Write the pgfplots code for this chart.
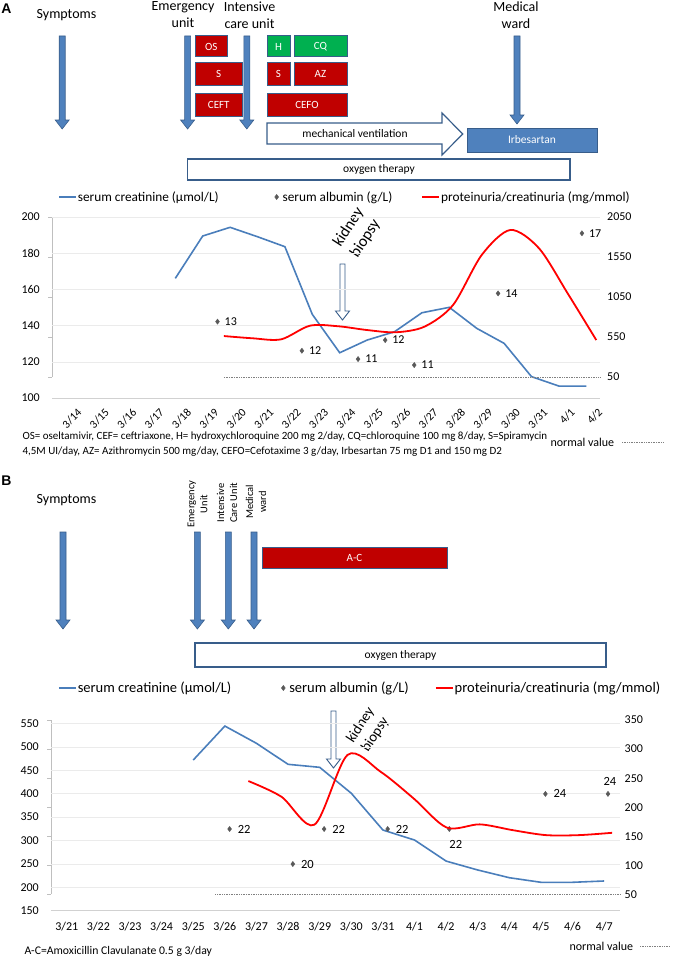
\documentclass[border=0pt]{standalone}
\usepackage{fontspec}
\setmainfont{Carlito}
\newfontfamily\arialf{Liberation Sans}
\usepackage{pgfplots}
\pgfplotsset{compat=1.18}
\definecolor{afill}{HTML}{4F81BD}
\definecolor{adraw}{HTML}{385D8A}
\definecolor{bred}{HTML}{C00000}
\definecolor{bgreen}{HTML}{00B050}
\definecolor{lblue}{HTML}{4A7EBB}
\definecolor{alb}{HTML}{595959}
\definecolor{axg}{HTML}{BFBFBF}
\newcommand{\fs}[2]{\fontsize{#1}{#2}\selectfont}
\newcommand{\darrow}[3]{%
  \filldraw[fill=afill,draw=adraw,line width=0.6pt]
  ({#1-3},#2) -- ({#1+3},#2) -- ({#1+3},{#3-9}) -- ({#1+7},{#3-9}) -- (#1,#3) -- ({#1-7},{#3-9}) -- ({#1-3},{#3-9}) -- cycle;}
\newcommand{\harrow}[3]{%
  \filldraw[fill=white,draw=adraw,line width=0.9pt]
  ({#1-2.5},#2) -- ({#1+2.5},#2) -- ({#1+2.5},{#3-9}) -- ({#1+7},{#3-9}) -- (#1,#3) -- ({#1-7},{#3-9}) -- ({#1-2.5},{#3-9}) -- cycle;}
\newcommand{\tbox}[6]{%
  \filldraw[fill=#5,draw=adraw,line width=1pt] (#1,#2) rectangle (#3,#4);
  \node[text=white,font=\fs{11}{13}] at ({(#1+#3)/2},{(#2+#4)/2}) {#6};}
\pgfplotsset{
  albstyle/.style={only marks, mark=diamond*, mark size=2.6pt, color=alb,
    nodes near coords, point meta=explicit symbolic},
  albleg/.style={legend image code/.code={\draw[alb,fill=alb] plot[mark=diamond*, mark size=2.6pt] coordinates {(3pt,0pt)};}},
}
\begin{document}
\begin{tikzpicture}
\useasboundingbox (0,0) rectangle (675pt,-958pt);
\begin{scope}[x=1pt,y=-1pt]
% ---------------- Panel A header
\node[font=\arialf\bfseries\fs{14}{16}] at (6.5,8.5) {A};
\node[font=\fs{14}{16}] at (66.5,15) {Symptoms};
\node[font=\fs{14}{17},align=center] at (183,15) {Emergency\\unit};
\node[font=\fs{14}{17},align=center] at (249.5,15) {Intensive\\care unit};
\node[font=\fs{14}{17},align=center] at (516,15) {Medical\\ward};
\darrow{62.2}{36}{129}
\darrow{187.6}{36}{129}
\darrow{246.8}{36}{129}
\darrow{517}{36}{124}
\tbox{195}{36}{227.5}{57}{bred}{OS}
\tbox{195}{63}{242.5}{85}{bred}{S}
\tbox{195}{93}{242.5}{116}{bred}{CEFT}
\tbox{267}{36}{290}{57}{bgreen}{H}
\tbox{294}{36}{347}{57}{bgreen}{CQ}
\tbox{267}{63}{290}{85}{bred}{S}
\tbox{294}{63}{347}{85}{bred}{AZ}
\tbox{267}{93}{347}{116}{bred}{CEFO}
\filldraw[fill=white,draw=adraw,line width=1.2pt] (267,123) -- (442,123) -- (442,113) -- (462.7,134) -- (442,155) -- (442,144) -- (267,144) -- cycle;
\node[font=\fs{11.5}{13}] at (355,133.5) {mechanical ventilation};
\filldraw[fill=afill,draw=adraw,line width=1pt] (467,128) rectangle (597,152);
\node[font=\fs{11.5}{13},text=white] at (532,140) {Irbesartan};
\filldraw[fill=white,draw=adraw,line width=1.2pt] (187.6,159) rectangle (570,180);
\node[font=\fs{11.5}{13}] at (379,169.5) {oxygen therapy};
% axis decoration A
\draw[axg,line width=0.8pt] (52,217) -- (52,377);
\foreach \yy in {217,257,297,337,377} \draw[axg,line width=0.8pt] (48,\yy) -- (52,\yy);
\harrow{342.5}{264}{320}
\node[rotate=57,align=center,font=\fs{16}{20}] at (357,233) {kidney\\biopsy};
% footnote A
\node[anchor=west,font=\fs{11}{13}] at (19,437) {OS= oseltamivir, CEF= ceftriaxone, H= hydroxychloroquine 200 mg 2/day, CQ=chloroquine 100 mg 8/day, S=Spiramycin};
\node[anchor=west,font=\fs{11}{13}] at (19,452) {4,5M UI/day, AZ= Azithromycin 500 mg/day, CEFO=Cefotaxime 3 g/day, Irbesartan 75 mg D1 and 150 mg D2};
\node[anchor=west,font=\fs{12}{13}] at (547,442) {normal value};
\draw[gray,densely dotted,line width=0.7pt] (622,442) -- (663,442);
% ---------------- Panel B header
\node[font=\arialf\bfseries\fs{14}{16}] at (6.5,481) {B};
\node[font=\fs{14}{16}] at (66.5,500) {Symptoms};
\node[rotate=90,align=center,font=\fs{10.5}{13}] at (197.5,504) {Emergency\\Unit};
\node[rotate=90,align=center,font=\fs{10.5}{13}] at (227,503) {Intensive\\Care Unit};
\node[rotate=90,align=center,font=\fs{10.5}{13}] at (256,502) {Medical\\ward};
\darrow{63}{532}{629}
\darrow{197.4}{532}{629}
\darrow{228.3}{532}{629}
\darrow{254}{532}{629}
\tbox{262}{547}{447}{568}{bred}{A-C}
\filldraw[fill=white,draw=adraw,line width=1.2pt] (195,643) rectangle (606,667);
\node[font=\fs{11.5}{13}] at (400.5,655) {oxygen therapy};
% axis decoration B
\draw[axg,line width=0.8pt] (51,720) -- (51,894.3);
\foreach \yy in {720,749.1,778.2,807.3,836.2,865.3,894.3} \draw[axg,line width=0.8pt] (47,\yy) -- (51,\yy);
\harrow{333.5}{711}{768}
\node[rotate=57,align=center,font=\fs{14.5}{17.5}] at (368,730) {kidney\\biopsy};
% footnote B
\node[anchor=west,font=\fs{11.7}{13}] at (21,951) {A-C=Amoxicillin Clavulanate 0.5 g 3/day};
\node[anchor=west,font=\fs{12}{13}] at (566,946) {normal value};
\draw[gray,densely dotted,line width=0.7pt] (640,946) -- (670,946);
\end{scope}

% ================= Panel A chart (left axis)
\begin{axis}[
  at={(52pt,-398pt)}, anchor=south west, scale only axis,
  width=548pt, height=181pt,
  xmin=-0.5, xmax=19.5, ymin=100, ymax=200,
  axis x line*=bottom, axis y line*=left,
  x axis line style={draw=black!18, line width=0.9pt},
  y axis line style={draw=none},
  tick style={draw=none},
  xtick={0,...,19},
  xticklabels={3/14,3/15,3/16,3/17,3/18,3/19,3/20,3/21,3/22,3/23,3/24,3/25,3/26,3/27,3/28,3/29,3/30,3/31,4/1,4/2},
  xticklabel style={rotate=45, anchor=east, inner sep=0pt, font=\fs{11.5}{13}, xshift=1pt, yshift=-19pt},
  ytick={100,120,...,200},
  yticklabel style={anchor=east, inner sep=0pt, font=\fs{12}{14}, xshift=-12pt},
  ymajorgrids, grid style={black!8, line width=0.6pt},
  /pgf/number format/assume math mode=true,
  /pgf/number format/1000 sep={},
  clip=false,
  legend columns=3,
  legend style={at={(0.011,1.1105)}, anchor=west, draw=none, fill=none, inner sep=0pt,
    font=\fs{13.3}{15}, nodes={inner sep=1pt},
    /tikz/every even column/.append style={column sep=0pt}},
  legend cell align=left,
]
\addplot[lblue, line width=1.6pt,
  legend image code/.code={\draw[lblue,line width=1.6pt] (0pt,0pt) -- (17pt,0pt);}]
  coordinates {(4,166.1) (5,189.5) (6,194.3) (7,189.1) (8,183.6) (9,146.2) (10,125.0) (11,132.0) (12,136.6) (13,147.1) (14,150.1) (15,138.5) (16,130.2) (17,111.8) (18,106.6) (19,106.6)};
\addlegendentry{serum creatinine (µmol/L)\rule{55pt}{0pt}}
\addplot[albstyle, albleg,
  nodes near coords style={anchor=west, inner sep=0pt, xshift=7pt, font=\fs{12}{14}, text=black}]
  table[row sep=\\, meta=lab] {x y lab\\ 5.54 142.2 13\\ 8.62 126.1 12\\ 10.67 121.5 11\\ 11.66 132.0 12\\ 12.72 118.2 11\\ 15.78 157.8 14\\ 18.84 191.0 17\\};
\addlegendentry{\rule{3pt}{0pt}serum albumin (g/L)\rule{28pt}{0pt}}
\addlegendimage{legend image code/.code={\draw[red,line width=1.8pt] (0pt,0pt) -- (17pt,0pt);}}
\addlegendentry{proteinuria/creatinuria (mg/mmol)}
\end{axis}

% ================= Panel A chart (right axis)
\begin{axis}[
  at={(52pt,-398pt)}, anchor=south west, scale only axis,
  width=548pt, height=181pt,
  xmin=0, xmax=19.13, ymin=-212.5, ymax=2050,
  axis x line=none, xtick=\empty,
  axis y line*=right, y axis line style={draw=none},
  tick style={draw=none},
  ytick={50,550,...,2050},
  yticklabel style={anchor=west, inner sep=0pt, font=\fs{12}{14}, xshift=7pt},
  /pgf/number format/assume math mode=true,
  /pgf/number format/1000 sep={},
  clip=false,
]
\addplot[gray, densely dotted, line width=0.7pt] coordinates {(6,50) (19.13,50)};
\addplot[red, line width=1.8pt, smooth, tension=0.5] coordinates {(6,562) (7,534) (8,521) (9,691) (10,684) (11,637) (12,609) (13,679) (14,950) (15,1575) (16,1888) (17,1659) (18,1096) (19,512)};
\end{axis}

% ================= Panel B chart (left axis)
\begin{axis}[
  at={(51pt,-910.7pt)}, anchor=south west, scale only axis,
  width=569pt, height=190.7pt,
  xmin=-0.5, xmax=17.5, ymin=150, ymax=557.5,
  axis x line*=bottom, axis y line*=left,
  x axis line style={draw=black!18, line width=0.9pt},
  y axis line style={draw=none},
  tick style={draw=none},
  xtick={0,...,17},
  xticklabels={3/21,3/22,3/23,3/24,3/25,3/26,3/27,3/28,3/29,3/30,3/31,4/1,4/2,4/3,4/4,4/5,4/6,4/7},
  xticklabel style={anchor=north, inner sep=0pt, font=\fs{12}{14}, yshift=-11pt},
  ytick={150,200,...,550},
  yticklabel style={anchor=east, inner sep=0pt, font=\fs{12}{14}, xshift=-12pt},
  ymajorgrids, grid style={black!8, line width=0.6pt},
  /pgf/number format/assume math mode=true,
  /pgf/number format/1000 sep={},
  clip=false,
  legend columns=3,
  legend style={at={(0.0123,1.1678)}, anchor=west, draw=none, fill=none, inner sep=0pt,
    font=\fs{14.5}{16}, nodes={inner sep=1pt},
    /tikz/every even column/.append style={column sep=0pt}},
  legend cell align=left,
]
\addplot[lblue, line width=1.6pt,
  legend image code/.code={\draw[lblue,line width=1.6pt] (0pt,0pt) -- (17pt,0pt);}]
  coordinates {(4,472) (5,544.6) (6,507.7) (7,462.8) (8,456.4) (9,400.9) (10,322.4) (11,301) (12,256) (13,237) (14,220.5) (15,210.7) (16,210.7) (17,213.5)};
\addlegendentry{serum creatinine (µmol/L)\rule{49pt}{0pt}}
\addplot[albstyle, albleg,
  nodes near coords style={anchor=west, inner sep=0pt, xshift=8pt, font=\fs{12.5}{14}, text=black}]
  table[row sep=\\, meta=lab] {x y lab\\ 5.15 324.6 22\\ 7.15 249.8 20\\ 8.14 324.6 22\\ 10.15 324.6 22\\ 15.14 399.6 24\\};
\addlegendentry{\rule{3pt}{0pt}serum albumin (g/L)\rule{25pt}{0pt}}
\addplot[albstyle, forget plot,
  nodes near coords style={anchor=north, inner sep=0pt, xshift=6.5pt, yshift=-11pt, font=\fs{12.5}{14}, text=black}]
  table[row sep=\\, meta=lab] {x y lab\\ 12.10 324.6 22\\};
\addplot[albstyle, forget plot,
  nodes near coords style={anchor=south, inner sep=0pt, xshift=2pt, yshift=8pt, font=\fs{12.5}{14}, text=black}]
  table[row sep=\\, meta=lab] {x y lab\\ 17.12 399.6 24\\};
\addlegendimage{legend image code/.code={\draw[red,line width=1.8pt] (0pt,0pt) -- (17pt,0pt);}}
\addlegendentry{proteinuria/creatinuria (mg/mmol)}
\end{axis}

% ================= Panel B chart (right axis)
\begin{axis}[
  at={(51pt,-910.7pt)}, anchor=south west, scale only axis,
  width=569pt, height=190.7pt,
  xmin=0.03, xmax=17.24, ymin=22, ymax=350,
  axis x line=none, xtick=\empty,
  axis y line*=right, y axis line style={draw=none},
  tick style={draw=none},
  ytick={50,100,...,350},
  yticklabel style={anchor=west, inner sep=0pt, font=\fs{12}{14}, xshift=4.5pt},
  /pgf/number format/assume math mode=true,
  /pgf/number format/1000 sep={},
  clip=false,
]
\addplot[gray, densely dotted, line width=0.7pt] coordinates {(5,50) (17.24,50)};
\addplot[red, line width=1.8pt, smooth, tension=0.5] coordinates {(6,245) (7,218) (8,170) (9,290) (10,261) (11,215) (12,165) (13,170.5) (14,160.5) (15,152) (16,152) (17,156)};
\end{axis}
\end{tikzpicture}
\end{document}
